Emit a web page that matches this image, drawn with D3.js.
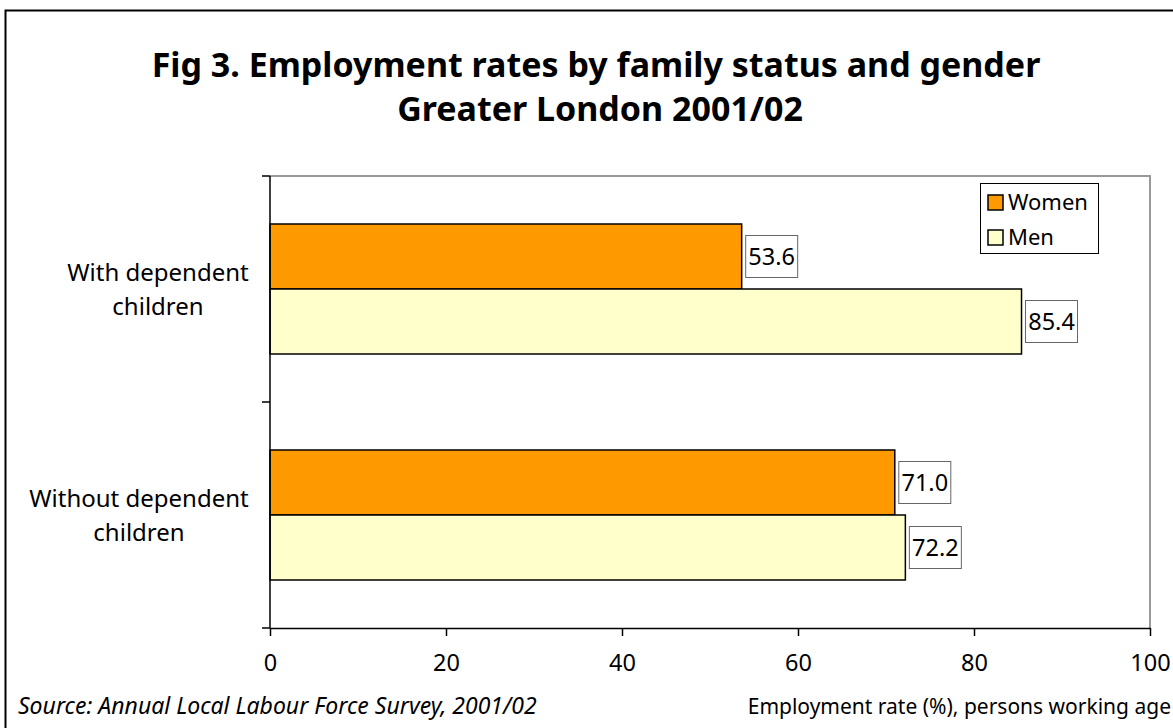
<!DOCTYPE html>
<html>
<head>
<meta charset="utf-8">
<script src="https://cdn.jsdelivr.net/npm/d3@7"></script>
<style>
  body { margin: 0; background: #fff; }
  text { font-family: "Noto Sans", sans-serif; }
</style>
</head>
<body>
<div id="chart"></div>
<script>
// data
var categories = ["With dependent children", "Without dependent children"];
var categoryLines = [["With dependent", "children"], ["Without dependent", "children"]];
var series = ["Women", "Men"];
var women = [53.6, 71.0];
var men = [85.4, 72.2];
var xTicks = [0, 20, 40, 60, 80, 100];
var seriesColors = ["#FF9900", "#FFFFCC"];

const width = 1173, height = 728;
const plot = { left: 270, right: 1150, top: 176, bottom: 628 };

var svg = d3.select("#chart").append("svg")
    .attr("width", width)
    .attr("height", height);

// outer frame
svg.append("rect")
    .attr("x", 5.5).attr("y", 10.5)
    .attr("width", 1300).attr("height", 900)
    .attr("fill", "none")
    .attr("stroke", "#000")
    .attr("stroke-width", 2);

// title
var title = svg.append("text")
    .attr("text-anchor", "middle")
    .attr("font-weight", "bold")
    .attr("font-size", 34)
    .attr("fill", "#000");
title.append("tspan").attr("x", 596).attr("y", 77).text("Fig 3. Employment rates by family status and gender");
title.append("tspan").attr("x", 600).attr("y", 121).text("Greater London 2001/02");

var x = d3.scaleLinear().domain([0, 100]).range([plot.left, plot.right]);
var y = d3.scaleBand().domain(categories).range([plot.top, plot.bottom])
    .paddingInner(96 / 226).paddingOuter(48 / 226);
var ySeries = d3.scaleBand().domain(series).range([0, y.bandwidth()]);

// plot area border (grey top/right)
svg.append("path")
    .attr("d", "M" + plot.left + "," + plot.top + "H" + plot.right + "V" + plot.bottom)
    .attr("fill", "none")
    .attr("stroke", "#999")
    .attr("stroke-width", 2);

// bars
var rows = categories.map(function (c, i) {
    return { cat: c, lines: categoryLines[i], values: [women[i], men[i]] };
});
var groups = svg.selectAll("g.cat").data(rows).enter().append("g")
    .attr("class", "cat")
    .attr("transform", function (d) { return "translate(0," + y(d.cat) + ")"; });

var bars = groups.selectAll("g.bar")
    .data(function (d) { return d.values.map(function (v, j) { return { s: series[j], v: v, j: j }; }); })
    .enter().append("g").attr("class", "bar");

bars.append("rect")
    .attr("x", x(0))
    .attr("y", function (d) { return ySeries(d.s); })
    .attr("width", function (d) { return x(d.v) - x(0); })
    .attr("height", ySeries.bandwidth())
    .attr("fill", function (d) { return seriesColors[d.j]; })
    .attr("stroke", "#000")
    .attr("stroke-width", 1.5);

// value labels in boxes
bars.append("rect")
    .attr("x", function (d) { return x(d.v) + 4; })
    .attr("y", function (d) { return ySeries(d.s) + ySeries.bandwidth() / 2 - 21; })
    .attr("width", 52)
    .attr("height", 42)
    .attr("fill", "#fff")
    .attr("stroke", "#666")
    .attr("stroke-width", 1);
bars.append("text")
    .attr("x", function (d) { return x(d.v) + 30; })
    .attr("y", function (d) { return ySeries(d.s) + ySeries.bandwidth() / 2; })
    .attr("dy", "0.36em")
    .attr("text-anchor", "middle")
    .attr("font-size", 23.5)
    .text(function (d) { return d.v.toFixed(1); });

// category labels
groups.append("text")
    .attr("text-anchor", "middle")
    .attr("font-size", 24)
    .selectAll("tspan")
    .data(function (d) { return d.lines.map(function (l, k) { return { l: l, k: k, i: categories.indexOf(d.cat) }; }); })
    .enter().append("tspan")
    .attr("x", function (d) { return d.i === 0 ? 158 : 139; })
    .attr("y", function (d) { return y.bandwidth() / 2 - 8 + d.k * 34; })
    .text(function (d) { return d.l; });

// y axis: line and category separators
var yAxis = svg.append("g");
yAxis.append("line")
    .attr("x1", plot.left).attr("x2", plot.left)
    .attr("y1", plot.top).attr("y2", plot.bottom)
    .attr("stroke", "#000").attr("stroke-width", 1.5);
var yTickPos = [plot.top].concat(categories.map(function (c) { return y(c) + y.bandwidth() + y.step() * y.paddingInner() / 2; }));
yAxis.selectAll("line.tk").data(yTickPos).enter().append("line")
    .attr("class", "tk")
    .attr("x1", plot.left - 8).attr("x2", plot.left)
    .attr("y1", function (d) { return d; }).attr("y2", function (d) { return d; })
    .attr("stroke", "#000").attr("stroke-width", 1.5);

// x axis
var xAxis = svg.append("g")
    .attr("transform", "translate(0," + plot.bottom + ")")
    .call(d3.axisBottom(x).tickValues(xTicks).tickSize(8).tickPadding(18).tickSizeOuter(0));
xAxis.select(".domain").attr("stroke", "#000").attr("stroke-width", 1.5);
xAxis.selectAll(".tick line").attr("stroke", "#000").attr("stroke-width", 1.5);
xAxis.selectAll(".tick text")
    .attr("font-family", "Noto Sans, sans-serif")
    .attr("font-size", 23.5)
    .attr("fill", "#000");

// legend
var legend = svg.append("g").attr("transform", "translate(980,183)");
legend.append("rect")
    .attr("x", 0.5).attr("y", 0.5)
    .attr("width", 118).attr("height", 70)
    .attr("fill", "#fff")
    .attr("stroke", "#000")
    .attr("stroke-width", 1);
var items = legend.selectAll("g.item").data(series).enter().append("g")
    .attr("class", "item")
    .attr("transform", function (d, i) { return "translate(8," + (19 + i * 35) + ")"; });
items.append("rect")
    .attr("x", 0).attr("y", -7)
    .attr("width", 15).attr("height", 15)
    .attr("fill", function (d, i) { return seriesColors[i]; })
    .attr("stroke", "#000")
    .attr("stroke-width", 1.5);
items.append("text")
    .attr("x", 20)
    .attr("y", 0)
    .attr("dy", "0.36em")
    .attr("font-size", 22)
    .text(function (d) { return d; });

// footer
svg.append("text")
    .attr("x", 18).attr("y", 714)
    .attr("font-size", 23)
    .attr("font-style", "italic")
    .text("Source: Annual Local Labour Force Survey, 2001/02");
svg.append("text")
    .attr("x", 1171).attr("y", 714)
    .attr("text-anchor", "end")
    .attr("font-size", 21)
    .text("Employment rate (%), persons working age");
</script>
</body>
</html>
